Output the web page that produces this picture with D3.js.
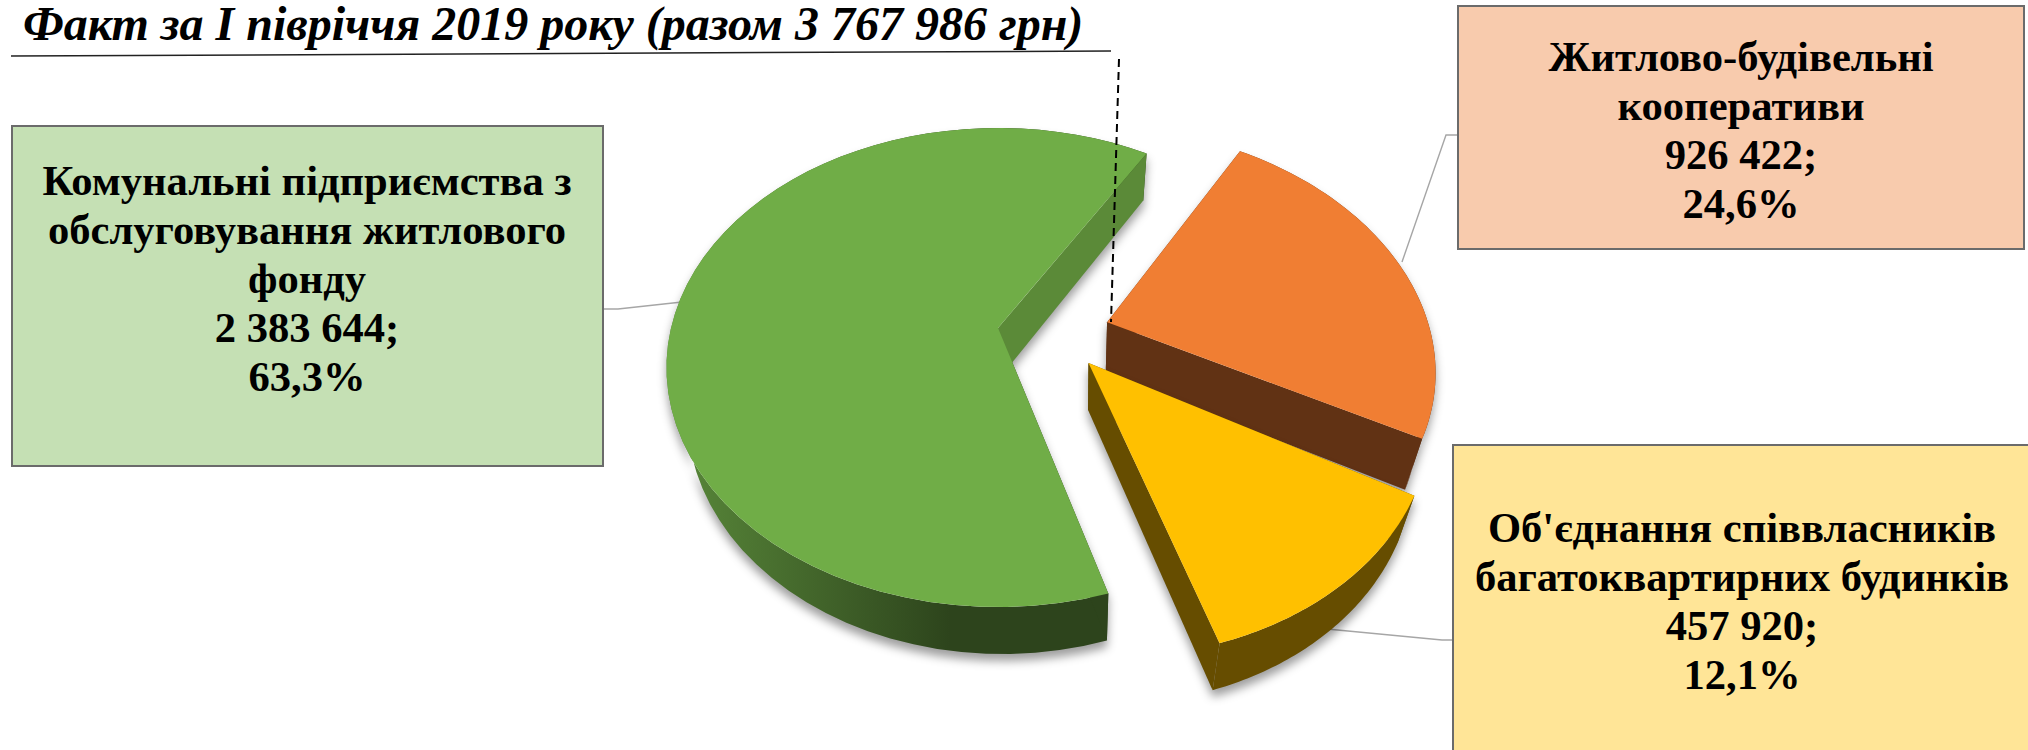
<!DOCTYPE html>
<html>
<head>
<meta charset="utf-8">
<script src="https://cdn.jsdelivr.net/npm/d3@7"></script>
<style>
  html, body { margin: 0; padding: 0; background: #fff; overflow: hidden; }
  text { font-family: "Liberation Serif", serif; fill: #000; }
</style>
</head>
<body>
<div id="chart"></div>
<script>
const titleText = "Факт за І півріччя 2019 року (разом 3 767 986 грн)";
const categories = ["Комунальні підприємства", "Житлово-будівельні кооперативи", "Об'єднання співвласників"];
const values = [2383644, 926422, 457920];
const labelLines = [
  ["Комунальні підприємства з", "обслуговування житлового", "фонду", "2 383 644;", "63,3%"],
  ["Житлово-будівельні", "кооперативи", "926 422;", "24,6%"],
  ["Об'єднання співвласників", "багатоквартирних будинків", "457 920;", "12,1%"]
];
const topColors = ["#70ad47", "#f07e33", "#ffc000"];
const wallColors = ["#5b8a38", "#613214", "#664d00"];
const frontColors = ["#2d441c", "#613214", "#664d00"];
const boxColors = ["#c5e0b4", "#f8cbad", "#ffe597"];

const width = 2028, height = 750;

// label boxes and leader lines, placed by hand from the picture
const boxes = [
  { x: 12, y: 126, w: 591, h: 340, cx: 307, first: 195 },
  { x: 1458, y: 6, w: 566, h: 243, cx: 1741, first: 71 },
  { x: 1453, y: 445, w: 600, h: 340, cx: 1742, first: 542 }
];
const leaders = [
  [[603, 309], [618, 309], [682, 302]],
  [[1402, 262], [1446, 135], [1458, 135]],
  [[1327, 629], [1442, 640], [1453, 640]]
];

// fake 3D: disk coordinates (radius 1) go through a small perspective
const persp = 0.165;
const xScale = d3.scaleLinear().domain([0, 1]).range([998, 998 + 327]);
const yScale = d3.scaleLinear().domain([0, 1]).range([328, 328 + 233]);
const project = ([u, v]) => {
  const w = 1 / (1 - persp * v);
  return [xScale(u * w), yScale(v * w)];
};

// how far each slice is pulled out, in disk units, plus small fit tweaks
const sliceShift = [[0, 0], [0.335, -0.025], [0.27, 0.147]];
const sliceRadius = [1, 0.985, 1];
const sliceEndTrim = [0, 1.5, 0]; // degrees
const sliceDepth = [47, 51, 47];

const pie = d3.pie().sort(null)
  .startAngle(163.5 * Math.PI / 180)
  .endAngle((163.5 + 360) * Math.PI / 180);
const slices = pie(values);

const svg = d3.select("#chart").append("svg")
  .attr("width", width)
  .attr("height", height);

const sideGrad = svg.append("defs").append("linearGradient")
  .attr("id", "greenSide")
  .attr("gradientUnits", "userSpaceOnUse")
  .attr("x1", 690).attr("x2", 950).attr("y1", 0).attr("y2", 0);
sideGrad.append("stop").attr("offset", 0).attr("stop-color", "#568438");
sideGrad.append("stop").attr("offset", 1).attr("stop-color", "#2d441c");

const line = d3.line();

// label leaders sit under the pie
svg.append("g").selectAll("path")
  .data(leaders)
  .join("path")
  .attr("d", line)
  .attr("fill", "none")
  .attr("stroke", "#a6a6a6")
  .attr("stroke-width", 1.4);

const pieces = slices.map((s, i) => {
  const [ox, oy] = sliceShift[i];
  const r = sliceRadius[i];
  const end = s.endAngle - sliceEndTrim[i] * Math.PI / 180;
  const arcPts = d3.range(0, 61).map((k) => {
    const a = s.startAngle + (end - s.startAngle) * k / 60;
    return project([ox + r * Math.sin(a), oy - r * Math.cos(a)]);
  });
  return { apex: project([ox, oy]), arcPts };
});

const g = svg.append("g");
pieces.forEach((p, i) => {
  const first = p.arcPts[0], last = p.arcPts[p.arcPts.length - 1];
  const lower = ([x, y]) => [1080 + (x - 1080) * 0.95, y + sliceDepth[i]]; // bottom plane
  const walls = g.append("g").style("filter", "drop-shadow(0px 7px 5px rgba(0,0,0,0.38))");
  // rounded rim first, straight cut faces over it
  walls.append("path")
    .attr("d", line(p.arcPts.concat(p.arcPts.map(lower).reverse())) + "Z")
    .attr("fill", i === 0 ? "url(#greenSide)" : wallColors[i]);
  walls.append("path")
    .attr("d", line([p.apex, first, lower(first), lower(p.apex)]) + "Z")
    .attr("fill", frontColors[i]);
  walls.append("path")
    .attr("d", line([p.apex, last, lower(last), lower(p.apex)]) + "Z")
    .attr("fill", wallColors[i]);
  g.append("path")
    .attr("d", line([p.apex].concat(p.arcPts)) + "Z")
    .attr("fill", topColors[i]);
});

// title with the hand drawn underline and dashed divider
svg.append("text")
  .attr("x", 23)
  .attr("y", 40)
  .attr("font-size", 48)
  .attr("font-weight", "bold")
  .attr("font-style", "italic")
  .text(titleText);
svg.append("path")
  .attr("d", line([[11, 56], [1111, 51]]))
  .attr("stroke", "#222")
  .attr("stroke-width", 1.5);
svg.append("path")
  .attr("d", line([[1119, 59], [1111, 322]]))
  .attr("stroke", "#000")
  .attr("stroke-width", 2)
  .attr("stroke-dasharray", "8 5");

const labels = svg.append("g").selectAll("g")
  .data(boxes)
  .join("g");
labels.append("rect")
  .attr("x", (d) => d.x)
  .attr("y", (d) => d.y)
  .attr("width", (d) => d.w)
  .attr("height", (d) => d.h)
  .attr("fill", (d, i) => boxColors[i])
  .attr("stroke", "#6b6b6b")
  .attr("stroke-width", 2);
labels.each(function (d, i) {
  d3.select(this).selectAll("text")
    .data(labelLines[i])
    .join("text")
    .attr("x", d.cx)
    .attr("y", (t, j) => d.first + j * 49)
    .attr("text-anchor", "middle")
    .attr("font-size", 42.6)
    .attr("font-weight", "bold")
    .text((t) => t);
});
</script>
</body>
</html>
